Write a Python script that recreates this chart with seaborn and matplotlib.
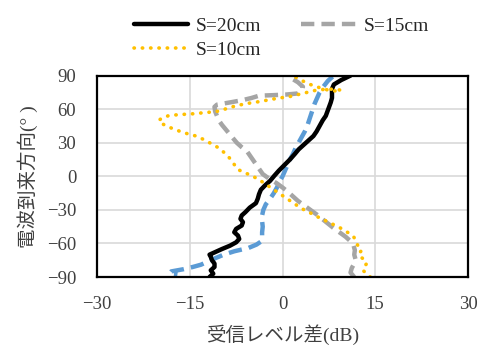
import numpy as np
import pandas as pd
import matplotlib
matplotlib.use("Agg")
import matplotlib.pyplot as plt
import seaborn as sns

# ---- data (angle in degrees, level difference in dB) ----
s20_angle = [90, 86, 82, 78, 74, 70, 66, 60, 54, 50, 45, 40, 36, 32, 28, 24, 20, 15, 10, 5, 0,
             -4, -8, -12, -16, -20, -24, -28, -32, -35, -38, -41, -44, -47, -50, -53, -56, -59,
             -62, -65, -68, -70, -72, -75, -78, -81, -84, -87, -90]
s20_diff = [11.0, 9.5, 8.3, 8.0, 8.0, 8.0, 7.8, 7.4, 7.0, 6.5, 6.0, 5.5, 5.0, 4.2, 3.4, 2.6, 2.0,
            1.2, 0.3, -0.6, -1.4, -2.0, -2.8, -3.5, -3.8, -4.0, -4.3, -5.3, -6.0, -6.6, -6.8,
            -6.4, -6.6, -7.5, -7.8, -7.2, -7.0, -7.5, -8.5, -9.8, -11.0, -11.8, -11.6, -11.4,
            -11.0, -11.0, -11.6, -11.2, -11.8]

s15_angle = [-90, -86, -82, -78, -74, -70, -66, -62, -58, -54, -50, -46, -42, -38, -34, -30, -26,
             -22, -18, -14, -10, -6, -2, 2, 6, 10, 14, 18, 22, 26, 30, 34, 38, 42, 46, 50, 54, 58,
             62, 64, 66, 68, 70, 72, 72.5, 73, 74, 77, 80, 84, 87, 90]
s15_diff = [11.6, 11.0, 11.2, 11.6, 11.8, 11.6, 11.7, 11.5, 11.0, 10.2, 9.2, 8.2, 7.3, 6.4, 5.5,
            4.5, 3.5, 2.5, 1.7, 0.9, 0.0, -1.0, -2.2, -3.2, -3.7, -4.2, -4.7, -5.2, -5.7, -6.6,
            -7.4, -8.0, -8.6, -9.2, -9.8, -10.3, -10.6, -10.9, -11.0, -10.6, -8.5, -6.5, -5.0,
            -3.8, -1.5, 0.5, 2.5, 3.2, 3.3, 2.5, 1.6, 0.8]

s10_angle = [-90, -87, -84, -81, -78, -75, -72, -69, -66, -63, -60, -57, -54, -51, -48, -45, -42,
             -39, -36, -33, -30, -27, -24, -21, -18, -15, -12, -9, -6, -3, 0, 3, 6, 9, 12, 15, 18,
             21, 24, 27, 30, 33, 36, 39, 42, 45, 48, 50, 52, 54, 55, 55.5, 56, 57, 57.5, 59, 61,
             63, 65, 66.5, 68, 70, 71, 73, 75, 77, 78, 77, 76, 80, 83, 86, 89, 90]
s10_diff = [14.2, 13.6, 13.0, 13.2, 13.6, 13.4, 12.6, 12.4, 12.8, 12.3, 12.0, 11.8, 11.5, 10.8,
            9.9, 9.0, 7.8, 6.7, 5.6, 4.6, 3.5, 2.6, 1.8, 1.0, 0.2, -0.6, -1.4, -2.2, -3.0, -3.8,
            -4.8, -6.0, -7.2, -7.6, -8.0, -8.4, -8.8, -9.4, -10.0, -10.8, -11.8, -12.8, -14.0,
            -16.0, -17.5, -18.8, -19.8, -20.0, -19.5, -18.5, -17.0, -15.5, -14.0, -12.5, -11.0,
            -9.8, -8.8, -7.5, -5.8, -4.0, -2.5, -0.5, 1.0, 2.5, 4.0, 5.5, 7.5, 9.5, 8.0, 5.5,
            4.0, 3.0, 2.0, 1.0]

s5_angle = [89, 85, 80, 75, 70, 65, 60, 55, 50, 45, 40, 35, 30, 25, 20, 15, 10, 5, 0, -5, -10,
            -15, -20, -25, -30, -35, -40, -45, -50, -55, -58, -61, -64, -67, -70, -73, -76, -79,
            -81, -83, -85, -87, -88]
s5_diff = [8.1, 7.3, 6.6, 6.0, 5.6, 5.2, 4.9, 4.6, 4.3, 4.0, 3.6, 3.1, 2.6, 2.1, 1.7, 1.2, 0.8,
           0.4, 0.0, -0.5, -0.9, -1.4, -2.0, -2.7, -3.1, -3.3, -3.3, -3.2, -3.3, -3.3, -3.4,
           -4.2, -5.5, -7.8, -9.5, -10.8, -12.0, -13.2, -14.5, -16.0, -18.0, -18.3, -17.0]

labels = ["S=20cm", "S=15cm", "S=10cm"]
x_ticks = [-30, -15, 0, 15, 30]
y_ticks = [-90, -60, -30, 0, 30, 60, 90]

sns.set_theme(style="white")
plt.rcParams["font.family"] = ["Liberation Serif", "Noto Sans CJK JP"]

fig = plt.figure(figsize=(4.85, 3.45), dpi=100)
ax = fig.add_axes([0.200, 0.197, 0.765, 0.584])

df5 = pd.DataFrame({"diff": s5_diff, "angle": s5_angle})
df20 = pd.DataFrame({"diff": s20_diff, "angle": s20_angle})
df15 = pd.DataFrame({"diff": s15_diff, "angle": s15_angle})
df10 = pd.DataFrame({"diff": s10_diff, "angle": s10_angle})

sns.lineplot(data=df5, x="diff", y="angle", sort=False, estimator=None, ax=ax,
             color="#5B9BD5", linewidth=3.2, linestyle=(0, (3, 1.6)), legend=False)
sns.lineplot(data=df20, x="diff", y="angle", sort=False, estimator=None, ax=ax,
             color="black", linewidth=3.2, legend=False)
sns.lineplot(data=df15, x="diff", y="angle", sort=False, estimator=None, ax=ax,
             color="#A5A5A5", linewidth=3.2, linestyle=(0, (3, 1.6)), legend=False)
sns.lineplot(data=df10, x="diff", y="angle", sort=False, estimator=None, ax=ax,
             color="#FFC000", linewidth=2.6, linestyle=(0, (0.1, 2.2)),
             dash_capstyle="round", legend=False)

lines = ax.get_lines()
h20, h15, h10 = lines[1], lines[2], lines[3]

ax.set_xlim(-30, 30)
ax.set_ylim(-90, 90)
ax.set_xticks(x_ticks)
ax.set_yticks(y_ticks)
ax.set_xticklabels([str(v).replace("-", "\u2212") for v in x_ticks])
ax.set_yticklabels([str(v).replace("-", "\u2212") for v in y_ticks])
ax.tick_params(axis="both", labelsize=13.5, length=0, colors="#404040")
ax.tick_params(axis="x", pad=14)
ax.tick_params(axis="y", pad=15)
ax.grid(True, color="#D9D9D9", linewidth=1.2)
ax.set_axisbelow(True)
for sp in ax.spines.values():
    sp.set_visible(True)
    sp.set_color("black")
    sp.set_linewidth(1.6)

ax.set_xlabel("受信レベル差(dB)", fontsize=14, color="#404040", labelpad=8)
ax.set_ylabel("電波到来方向(° )", fontsize=14, color="#404040", labelpad=6)

fig.legend([h20, h10, h15], ["S=20cm", "S=10cm", "S=15cm"], ncol=2, frameon=False,
           loc="upper left", bbox_to_anchor=(0.24, 1.0), fontsize=14,
           handlelength=2.8, columnspacing=2.05, labelspacing=0.3, handletextpad=0.4)

fig.savefig("out.png", dpi=100)
